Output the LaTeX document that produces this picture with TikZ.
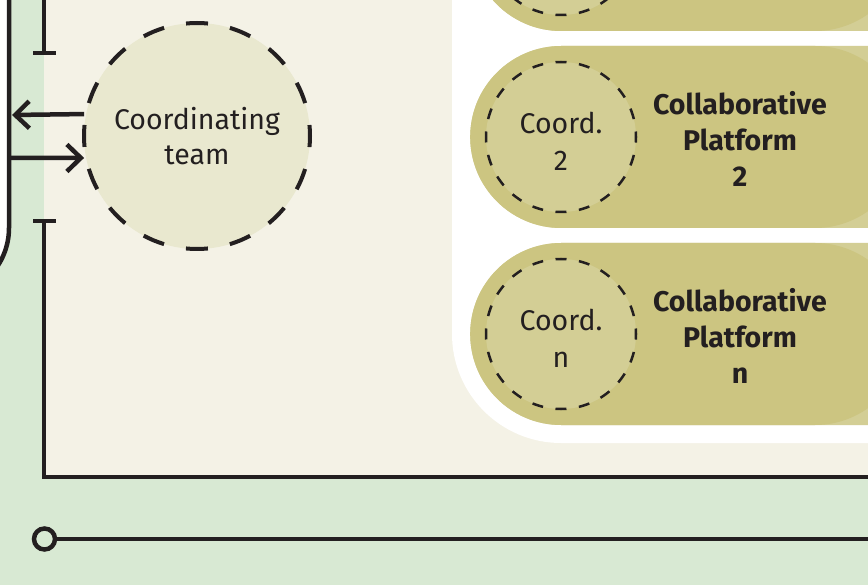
\documentclass[tikz,border=0pt]{standalone}
\usepackage{fontspec}
\setmainfont{Fira Sans}
\usetikzlibrary{arrows.meta,shapes.misc}
\definecolor{bggreen}{HTML}{D8E9D3}
\definecolor{beige}{HTML}{F4F2E6}
\definecolor{teamfill}{HTML}{E9E8CF}
\definecolor{pilldark}{HTML}{CCC581}
\definecolor{pilllight}{HTML}{D3CE95}
\definecolor{ink}{HTML}{231F20}
\tikzset{
  inkline/.style={draw=ink, line width=4.5pt},
  teamcircle/.style={circle, fill=teamfill, draw=ink, line width=4pt,
    dash pattern=on 22pt off 22.37pt, dash phase=11pt,
    minimum size=226pt, inner sep=0pt, outer sep=2pt,
    align=center, font=\fontsize{28.5}{35}\selectfont, text=ink},
  coordcircle/.style={circle, fill=pilllight, draw=ink, line width=2.5pt,
    dash pattern=on 11pt off 12.56pt, dash phase=5.5pt,
    minimum size=150pt, inner sep=0pt, outer sep=0pt},
  coordtext/.style={align=center, font=\fontsize{28.5}{37}\selectfont, text=ink, inner sep=0pt},
  pilltext/.style={align=center, font=\bfseries\fontsize{28.5}{36}\selectfont, text=ink},
  pillback/.style={rounded rectangle, fill=pilllight, minimum height=182pt, minimum width=700pt, inner sep=0pt, anchor=west},
  pillfront/.style={rounded rectangle, fill=pilldark, minimum height=182pt, minimum width=436pt, inner sep=0pt, anchor=west},
  barb/.style={-{Straight Barb[length=14pt,width=27pt]}},
}
\begin{document}
\begin{tikzpicture}[x=1pt,y=-1pt]
\useasboundingbox (0,0) rectangle (868,585);
% backgrounds
\fill[bggreen] (0,0) rectangle (868,585);
\fill[beige] (44,-10) rectangle (878,477);
% left white box with rounded bottom-right corner
\fill[white] (-200,-300) -- (9,-300) [rounded corners=69pt] -- (9,297) [sharp corners] -- (-200,297) -- cycle;
\draw[inkline] (9,-300) [rounded corners=69pt] -- (9,297) [sharp corners] -- (-200,297);
% white region behind pills
\fill[white, rounded corners=109pt] (452,-400) rectangle (1100,443);
% pills
\foreach \cy/\nm in {-60/p1, 137/p2, 334/pn}{
  \node[pillback] (\nm back) at (470,\cy) {};
  \node[pillfront] (\nm) at (470,\cy) {};
}
% inner coordinator circles
\node[coordcircle] (c1) at (561,-60) {};
\node[coordcircle] (c2) at (561,137) {};
\node[coordcircle] (cn) at (561,334) {};
\node[coordtext] (c2t) at ([yshift=-4pt]c2.center) {Coord.\\2};
\node[coordtext] (cnt) at ([yshift=-4pt]cn.center) {Coord.\\n};
% platform labels
\node[pilltext] (t2) at (740,139) {Collaborative\\Platform\\2};
\node[pilltext] (tn) at (740,336) {Collaborative\\Platform\\n};
% frame lines with T ends
\coordinate (topL) at (44,-10);
\coordinate (barA) at (44,53);
\coordinate (barB) at (44,221);
\coordinate (corner) at (44,477);
\coordinate (rightEnd) at (875,477);
\draw[inkline] (topL) -- (barA);
\draw[inkline] ([xshift=-11pt]barA) -- ([xshift=12pt]barA);
\draw[inkline] (barB) -- (corner) -- (rightEnd);
\draw[inkline] ([xshift=-11pt]barB) -- ([xshift=12pt]barB);
% coordinating team
\node[teamcircle] (team) at (197,136) {Coordinating\\team};
\coordinate (outEnd) at (12,115);
\coordinate (inStart) at (11,158);
\draw[inkline, barb] (team.169) -- (outEnd);
\draw[inkline, barb] (inStart) -- (team.191);
% bottom line with circle end
\node[circle, draw=ink, line width=4.5pt, minimum size=21pt, inner sep=0pt, outer sep=0pt] (dot) at (44.5,539) {};
\coordinate (lineEnd) at (875,539);
\draw[inkline] (dot.east) -- (lineEnd);
\end{tikzpicture}
\end{document}
